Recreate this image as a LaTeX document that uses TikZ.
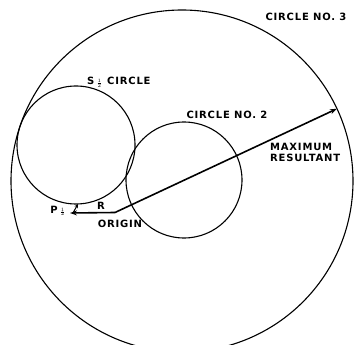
\documentclass[tikz,border=0pt]{standalone}
\usepackage{fontspec}
\setsansfont{DejaVu Sans}[LetterSpace=8]
\usepackage{tikz}
\usetikzlibrary{arrows.meta, positioning, calc}
\newcommand{\half}{\ensuremath{\scriptscriptstyle\frac{1}{2}}}
\tikzset{
  lbl/.style={font=\fontsize{10}{11}\selectfont\sffamily\bfseries, inner sep=0pt},
  ring/.style={circle, draw, line width=1.1pt, minimum size=#1, inner sep=0pt, outer sep=0pt},
  flow/.style={-{Stealth[length=7pt, width=5pt]}, line width=1.6pt},
}

\begin{document}
\begin{tikzpicture}[x=1pt, y=-1pt]
  \useasboundingbox (0,0) rectangle (354,345);
  % circles
  \node[ring=342pt] (c3) at (182,181) {};
  \node[ring=118pt] (shalf) at (76,145) {};
  \node[ring=116pt] (c2) at (184,180) {};
  % points
  \coordinate (origin) at (115,212.5);
  \coordinate (phalf) at (70,213);
  \coordinate (pfoot) at (73.5,212);
  % vectors
  \draw[flow] (origin) -- (c3.25.2);
  \draw[flow] (origin) -- (phalf);
  \draw[-{Stealth[length=4pt, width=4pt]}, line width=1pt] (pfoot) -- (shalf.-88);
  % labels
  \node[lbl] (l3) at (306,17) {CIRCLE NO. 3};
  \node[lbl, anchor=west] (ls) at (87,82) {S\kern2pt\half\kern5pt CIRCLE};
  \node[lbl] (l2) at (227,115) {CIRCLE NO. 2};
  \node[lbl, anchor=west, align=left] (lmax) at (270,152) {MAXIMUM\\[0pt]RESULTANT};
  \node[lbl] (lp) at (58,211) {P\kern2pt\half};
  \node[lbl] (lr) at (101,206) {R};
  \node[lbl] (lo) at (120,224) {ORIGIN};
\end{tikzpicture}
\end{document}
